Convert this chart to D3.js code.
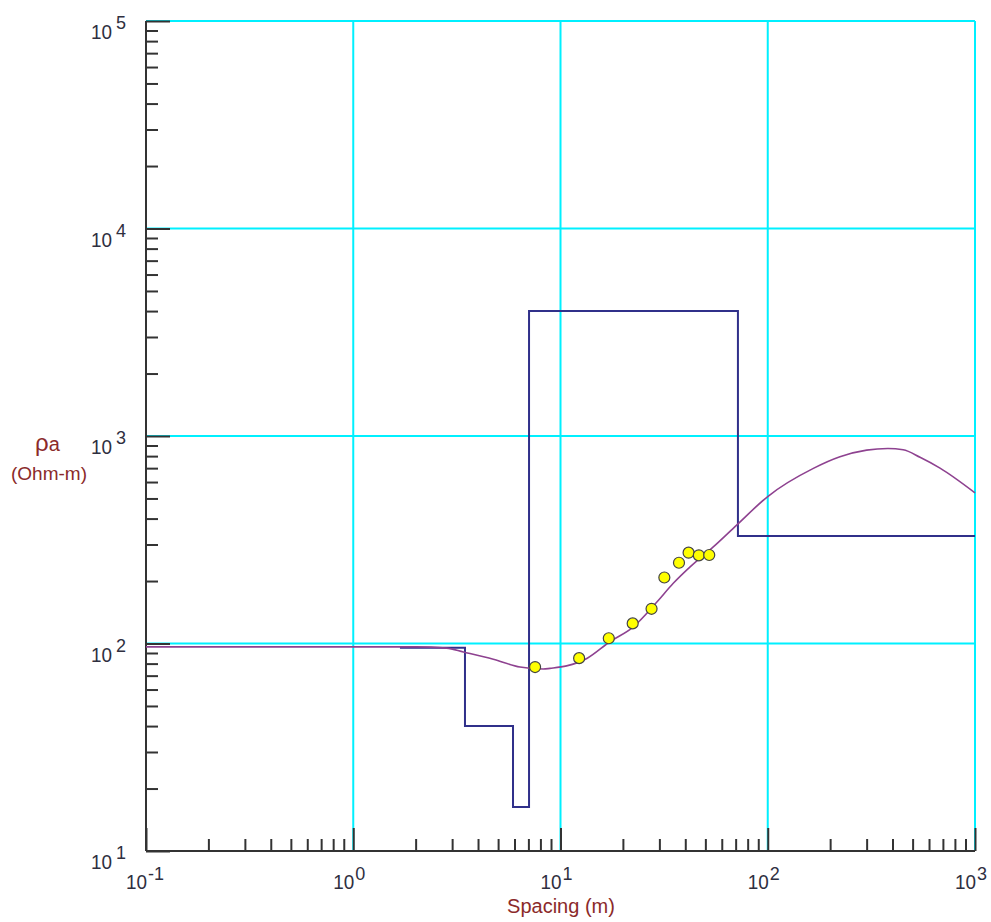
<!DOCTYPE html>
<html>
<head>
<meta charset="utf-8">
<script src="https://cdn.jsdelivr.net/npm/d3@7"></script>
<style>
  body { margin: 0; background: #fff; }
  svg { display: block; font-family: "Liberation Sans", Arial, sans-serif; }
</style>
</head>
<body>
<svg id="chart" width="991" height="922"></svg>
<script>
// Décadas de los ejes
const xDecades = [-1, 0, 1, 2, 3];
const yDecades = [1, 2, 3, 4, 5];

// Modelo de capas (espaciado donde empieza cada capa, resistividad)
const modelSpacing = [1.68, 3.46, 5.9, 7.05, 71.8, 1000];
const modelRho = [95.5, 40, 16.3, 4000, 330, 330];

// Curva calculada
const curveSpacing = [0.1, 0.5, 1, 2, 2.82, 3.4, 4.74, 6.38, 8.26, 8.9, 10.7, 13.4, 17.3, 22.4, 29.1, 35, 42.2, 54.6, 70.8, 100, 166, 223, 300, 380, 450, 543, 678, 1000];
const curveRho = [96.3, 96.3, 96.3, 96.3, 95, 91, 84, 77, 75.3, 75.9, 78, 84.7, 102, 120, 158, 195, 234, 292, 372, 511, 698, 794, 855, 870, 858, 790, 700, 532];

// Datos observados
const obsSpacing = [7.54, 12.3, 17.1, 22.3, 27.5, 31.7, 37.3, 41.5, 46.5, 52.2];
const obsRho = [77, 85, 106, 125, 147, 208, 245, 274, 266, 267];

const margin = {top: 21, left: 146};
const width = 829, height = 830;

const svg = d3.select('#chart');
const g = svg.append('g').attr('transform', `translate(${margin.left},${margin.top})`);

const x = d3.scaleLog().domain([0.1, 1000]).range([0, width]);
const y = d3.scaleLog().domain([10, 100000]).range([height, 0]);

// Rejilla cian
g.selectAll('.gx').data(xDecades.slice(1)).enter().append('line')
  .attr('x1', d => x(10 ** d)).attr('x2', d => x(10 ** d))
  .attr('y1', 0).attr('y2', height)
  .attr('stroke', '#00f0ff').attr('stroke-width', 2);
g.selectAll('.gy').data(yDecades.slice(1)).enter().append('line')
  .attr('y1', d => y(10 ** d)).attr('y2', d => y(10 ** d))
  .attr('x1', 0).attr('x2', width)
  .attr('stroke', '#00f0ff').attr('stroke-width', 2);

// Marcas menores y mayores
const minorX = [], minorY = [];
xDecades.slice(0, -1).forEach(d => { for (let k = 2; k <= 9; k++) minorX.push(k * 10 ** d); });
yDecades.slice(0, -1).forEach(d => { for (let k = 2; k <= 9; k++) minorY.push(k * 10 ** d); });

function styleAxis(sel) {
  sel.selectAll('line').attr('stroke', '#333').attr('stroke-width', 2);
  sel.selectAll('text').remove();
  sel.select('.domain').remove();
}

g.append('g').attr('transform', `translate(0,${height})`)
  .call(d3.axisBottom(x).tickValues(minorX).tickSize(-12).tickFormat(''))
  .call(styleAxis);
g.append('g').attr('transform', `translate(0,${height})`)
  .call(d3.axisBottom(x).tickValues(xDecades.map(d => 10 ** d)).tickSize(-23).tickFormat(''))
  .call(styleAxis);
g.append('g')
  .call(d3.axisLeft(y).tickValues(minorY).tickSize(-12).tickFormat(''))
  .call(styleAxis);
g.append('g')
  .call(d3.axisLeft(y).tickValues(yDecades.map(d => 10 ** d)).tickSize(-24).tickFormat(''))
  .call(styleAxis);

// Líneas de los ejes
g.append('line').attr('x1', 0).attr('x2', 0).attr('y1', 0).attr('y2', height)
  .attr('stroke', '#333').attr('stroke-width', 2);
g.append('line').attr('x1', 0).attr('x2', width).attr('y1', height).attr('y2', height)
  .attr('stroke', '#333').attr('stroke-width', 2);

// Etiquetas de los ejes
const labelColor = '#2f2f3f';
xDecades.forEach(d => {
  const px = x(10 ** d);
  g.append('text').attr('x', px + 1).attr('y', height + 38)
    .attr('text-anchor', 'end').attr('font-size', 21).attr('fill', labelColor)
    .attr('textLength', 21).attr('lengthAdjust', 'spacingAndGlyphs').text('10');
  g.append('text').attr('x', px + 2).attr('y', height + 29)
    .attr('font-size', 18).attr('fill', labelColor).text(d);
});
yDecades.forEach(d => {
  const py = y(10 ** d);
  g.append('text').attr('x', 112 - margin.left).attr('y', py + 18)
    .attr('text-anchor', 'end').attr('font-size', 21).attr('fill', labelColor)
    .attr('textLength', 21).attr('lengthAdjust', 'spacingAndGlyphs').text('10');
  g.append('text').attr('x', 116 - margin.left).attr('y', py + 8)
    .attr('font-size', 18).attr('fill', labelColor).text(d);
});

// Modelo
const modelData = modelSpacing.map((s, i) => ({s: s, r: modelRho[i]}));
g.append('path')
  .datum(modelData)
  .attr('fill', 'none')
  .attr('stroke', '#30308a')
  .attr('stroke-width', 2)
  .attr('d', d3.line().x(d => x(d.s)).y(d => y(d.r)).curve(d3.curveStepAfter));

// Curva calculada
const curveData = curveSpacing.map((s, i) => ({s: s, r: curveRho[i]}));
g.append('path')
  .datum(curveData)
  .attr('fill', 'none')
  .attr('stroke', '#8e4290')
  .attr('stroke-width', 1.6)
  .attr('d', d3.line().x(d => x(d.s)).y(d => y(d.r)).curve(d3.curveMonotoneX));

// Puntos observados
g.selectAll('.obs')
  .data(obsSpacing.map((s, i) => ({s: s, r: obsRho[i]})))
  .enter().append('circle')
  .attr('cx', d => x(d.s)).attr('cy', d => y(d.r)).attr('r', 5.5)
  .attr('fill', '#ffff00').attr('stroke', '#444').attr('stroke-width', 1.2);

// Títulos
const titleColor = '#8b2a2a';
svg.append('text').attr('x', 561).attr('y', 913).attr('text-anchor', 'middle')
  .attr('font-size', 20).attr('fill', titleColor).text('Spacing (m)');
const rt = svg.append('text').attr('x', 35).attr('y', 451).attr('font-size', 24).attr('fill', titleColor);
rt.append('tspan').text('ρ');
rt.append('tspan').attr('font-size', 20).text('a');
svg.append('text').attr('x', 49).attr('y', 480).attr('text-anchor', 'middle')
  .attr('font-size', 19).attr('fill', titleColor).text('(Ohm-m)');
</script>
</body>
</html>
